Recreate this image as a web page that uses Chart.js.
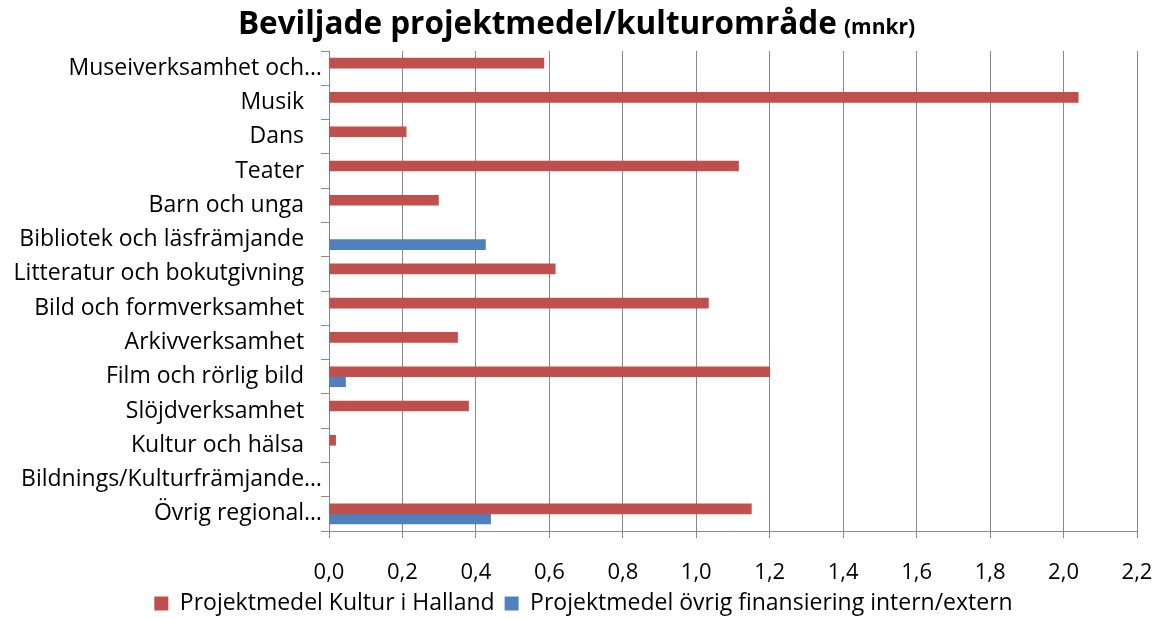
<!DOCTYPE html>
<html>
<head>
<meta charset="utf-8">
<script src="https://cdn.jsdelivr.net/npm/chart.js@4.4.1/dist/chart.umd.min.js"></script>
<style>
  html, body { margin: 0; padding: 0; background: #fff; overflow: hidden; }
  #wrap { width: 1159px; height: 618px; }
  canvas { display: block; }
</style>
</head>
<body>
<div id="wrap"><canvas id="kulturChart"></canvas></div>
<script>
// Kategorier (uppifrån och ned)
const categories = [
    'Museiverksamhet och…',
    'Musik',
    'Dans',
    'Teater',
    'Barn och unga',
    'Bibliotek och läsfrämjande',
    'Litteratur och bokutgivning',
    'Bild och formverksamhet',
    'Arkivverksamhet',
    'Film och rörlig bild',
    'Slöjdverksamhet',
    'Kultur och hälsa',
    'Bildnings/Kulturfrämjande…',
    'Övrig regional…'
];

// mnkr
const kulturIHalland = [0.585, 2.04, 0.21, 1.115, 0.298, 0, 0.616, 1.033, 0.35, 1.2, 0.38, 0.018, 0, 1.15];
const ovrigFinansiering = [0, 0, 0, 0, 0, 0.426, 0, 0, 0, 0.045, 0, 0, 0, 0.44];

const seriesNames = ['Projektmedel Kultur i Halland', 'Projektmedel övrig finansiering intern/extern'];
const xTicks = [0, 0.2, 0.4, 0.6, 0.8, 1.0, 1.2, 1.4, 1.6, 1.8, 2.0, 2.2];

const titleMain = 'Beviljade projektmedel/kulturområde';
const titleUnit = '(mnkr)';

const FONT = '"Open Sans"';
const gridGray = '#898989';

// Titel med två storlekar
const titlePlugin = {
    id: 'tvaStorlekar',
    afterDraw(chart) {
        const ctx = chart.ctx;
        ctx.save();
        const big = 'bold 31.5px ' + FONT;
        const small = 'bold 21px ' + FONT;
        ctx.font = big;
        const w1 = ctx.measureText(titleMain).width;
        ctx.font = small;
        const w2 = ctx.measureText(titleUnit).width;
        const gap = 7;
        let x = chart.width / 2 - (w1 + gap + w2) / 2 - 3;
        ctx.fillStyle = '#000';
        ctx.textBaseline = 'alphabetic';
        ctx.textAlign = 'left';
        ctx.font = big;
        ctx.fillText(titleMain, x, 34);
        ctx.font = small;
        ctx.fillText(titleUnit, x + w1 + gap, 34);
        ctx.restore();
    }
};

const ctx = document.getElementById('kulturChart').getContext('2d');

new Chart(ctx, {
    type: 'bar',
    data: {
        labels: categories,
        datasets: [{
                label: seriesNames[0],
                data: kulturIHalland,
                backgroundColor: '#C0504D',
                barThickness: 10,
            },
            {
                label: seriesNames[1],
                data: ovrigFinansiering,
                backgroundColor: '#4F81BD',
                barThickness: 10,
            }
        ]
    },
    options: {
        indexAxis: 'y',
        responsive: true,
        maintainAspectRatio: false,
        animation: false,
        layout: {
            padding: { top: 51, right: 0, left: 8, bottom: -7 }
        },
        scales: {
            x: {
                min: 0,
                max: 2.2,
                afterBuildTicks: scale => {
                    scale.ticks = xTicks.map(v => ({ value: v }));
                },
                afterFit: scale => {
                    scale.height = 51;
                    // tick-padding ska inte äta upp plats till höger
                    scale.paddingLeft = 0;
                    scale.paddingRight = 22;
                },
                ticks: {
                    color: '#000',
                    padding: 22,
                    maxRotation: 0,
                    minRotation: 0,
                    font: { family: FONT, size: 22 },
                    callback: v => v.toFixed(1).replace('.', ',')
                },
                grid: {
                    color: gridGray,
                    lineWidth: 1,
                    tickLength: 7,
                    drawTicks: true
                },
                border: { color: gridGray }
            },
            y: {
                afterFit: scale => { scale.width = 321; },
                ticks: {
                    color: '#000',
                    padding: -1,
                    autoSkip: false,
                    font: { family: FONT, size: 23 },
                    callback: function (value) {
                        const label = this.getLabelForValue(value);
                        return label.endsWith('…') ? label : label + '\u00a0\u00a0\u00a0';
                    }
                },
                grid: {
                    drawOnChartArea: false,
                    color: gridGray,
                    tickLength: 8
                },
                border: { color: gridGray }
            }
        },
        plugins: {
            legend: {
                position: 'bottom',
                labels: {
                    color: '#000',
                    boxWidth: 14,
                    boxHeight: 14,
                    padding: 10,
                    font: { family: FONT, size: 23 }
                }
            },
            tooltip: { enabled: false },
            title: { display: false }
        }
    },
    plugins: [titlePlugin]
});
</script>
</body>
</html>
